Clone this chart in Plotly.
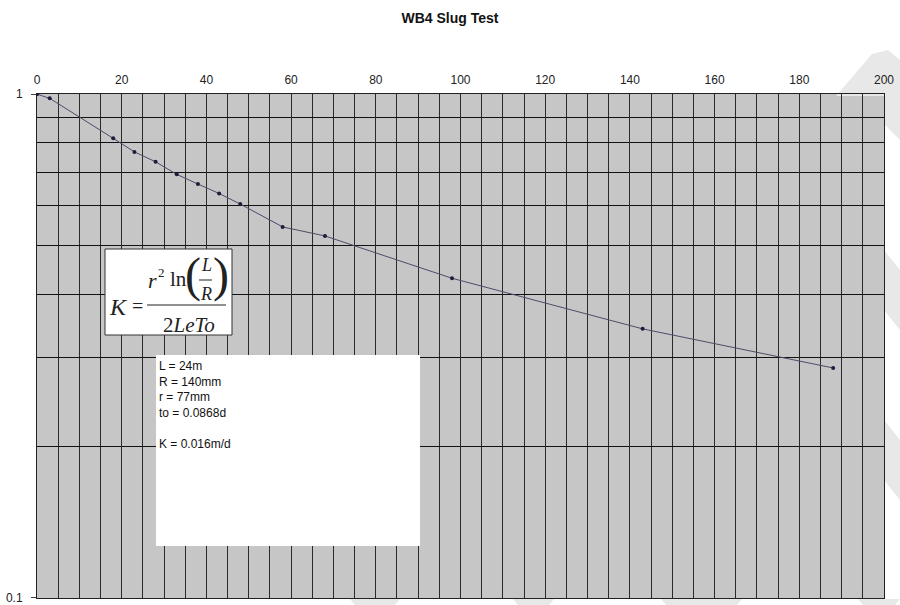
import plotly.graph_objects as go

# ---- data ----
time_min = [0, 3, 18, 23, 28, 33, 38, 43, 48, 58, 68, 98, 143, 188]
h_ratio = [1.0, 0.981, 0.817, 0.768, 0.734, 0.693, 0.663, 0.635, 0.605, 0.545, 0.523, 0.431, 0.342, 0.286]

x_ticks = [0, 20, 40, 60, 80, 100, 120, 140, 160, 180, 200]
y_ticks = [0.1, 1]
y_tick_text = ["0.1", "1"]
y_minor = [0.2, 0.3, 0.4, 0.5, 0.6, 0.7, 0.8, 0.9]

title_text = "WB4 Slug Test"
param_lines = ["L = 24m", "R = 140mm", "r = 77mm", "to = 0.0868d", "", "K = 0.016m/d"]

# ---- layout geometry (pixels) ----
W, H = 900, 605
L, R, T, B = 37, 884, 94, 598


def px(x):
    return (x - L) / (R - L)


def py(y):
    return (B - y) / (B - T)


fig = go.Figure()
fig.add_trace(go.Scatter(
    x=time_min, y=h_ratio, mode="lines+markers",
    line=dict(color="#4c4c68", width=1),
    marker=dict(color="#1c1c3c", size=4),
    showlegend=False, hoverinfo="x+y",
))

grid_col = "#2a2a2a"
fig.update_layout(
    width=W, height=H,
    margin=dict(l=L, r=W - R, t=T, b=H - B, autoexpand=False),
    paper_bgcolor="white", plot_bgcolor="#c6c6c6",
    font=dict(family="Liberation Sans, Arial, sans-serif", size=12, color="#222"),
    title=dict(text="<b>" + title_text + "</b>", x=0.5, xanchor="center",
               y=1 - 18 / H, yanchor="middle", font=dict(size=14, color="#111")),
    xaxis=dict(side="top", range=[0, 200], tickvals=x_ticks, ticks="outside",
               ticklen=4, tickcolor="rgba(0,0,0,0)", automargin=False,
               ticklabeloverflow="allow",
               showgrid=True, gridcolor=grid_col, gridwidth=1,
               minor=dict(dtick=5, tick0=0, showgrid=True, gridcolor=grid_col, gridwidth=1),
               showline=True, linecolor="#222", linewidth=1, mirror=True,
               zeroline=False, tickfont=dict(size=12)),
    yaxis=dict(type="log", range=[-1.0003, 0.0003], tickvals=y_ticks, ticktext=y_tick_text,
               ticks="outside", ticklen=5, tickcolor="#444", automargin=False,
               ticklabeloverflow="allow", ticklabelstandoff=6,
               showgrid=True, gridcolor=grid_col, gridwidth=1,
               minor=dict(tickvals=y_minor, showgrid=True, gridcolor="#111", gridwidth=1),
               showline=True, linecolor="#222", linewidth=1, mirror=True,
               zeroline=False, tickfont=dict(size=12)),
)

shapes = []


def poly(points, color="#e8e8e8"):
    path = "M " + " L ".join(f"{px(a)},{py(b)}" for a, b in points) + " Z"
    shapes.append(dict(type="path", xref="paper", yref="paper", path=path,
                       fillcolor=color, line=dict(width=0), layer="below"))


# faint watermark bands in the page margins
poly([(836, 96), (872, 54), (888, 50), (900, 60), (900, 140), (884, 124), (884, 96)])
for c in [290, 460]:
    poly([(884, c - 40), (900, c - 20), (900, c + 40), (884, c + 20)])
for a, b in [(350, 400), (513, 554), (661, 742), (858, 900)]:
    poly([(a, 599), (b, 599), (b - 5, 605), (a + 5, 605)])

# formula box
shapes.append(dict(type="rect", xref="paper", yref="paper",
                   x0=px(105), x1=px(232), y0=py(335), y1=py(249),
                   fillcolor="white", line=dict(color="#333", width=1), layer="above"))
# parameter box
shapes.append(dict(type="rect", xref="paper", yref="paper",
                   x0=px(156), x1=px(420), y0=py(546), y1=py(355),
                   fillcolor="white", line=dict(width=0), layer="above"))
# fraction bars
shapes.append(dict(type="line", xref="paper", yref="paper",
                   x0=px(147), x1=px(226), y0=py(305), y1=py(305),
                   line=dict(color="#222", width=1.2), layer="above"))
shapes.append(dict(type="line", xref="paper", yref="paper",
                   x0=px(199), x1=px(212), y0=py(280), y1=py(280),
                   line=dict(color="#222", width=1), layer="above"))
fig.update_layout(shapes=shapes)

serif = "Liberation Serif, Times New Roman, serif"


def ann(text, x, y, size, xanchor="center", yanchor="middle", family=serif, align="center"):
    fig.add_annotation(text=text, xref="paper", yref="paper", x=px(x), y=py(y),
                       xanchor=xanchor, yanchor=yanchor, showarrow=False, align=align,
                       font=dict(family=family, size=size, color="#222"))


ann("<i>K</i>", 118, 307, 24)
ann("=", 137, 306, 20)
ann("<i>r</i>", 152, 280, 22)
ann("2", 161, 272, 13)
ann("ln", 178, 279, 21)
ann("(", 193, 275, 48)
ann(")", 221, 275, 48)
ann("<i>L</i>", 206, 265, 18)
ann("<i>R</i>", 206, 294, 18)
ann("2<i>LeTo</i>", 189, 325, 21)

fig.add_annotation(text="<br>".join(param_lines), xref="paper", yref="paper",
                   x=px(157), y=py(357), xanchor="left", yanchor="top", align="left",
                   showarrow=False, font=dict(size=12, color="#111"))

fig.write_html("out.html", config={"displayModeBar": False},
               post_script="document.body.style.margin='0';")
